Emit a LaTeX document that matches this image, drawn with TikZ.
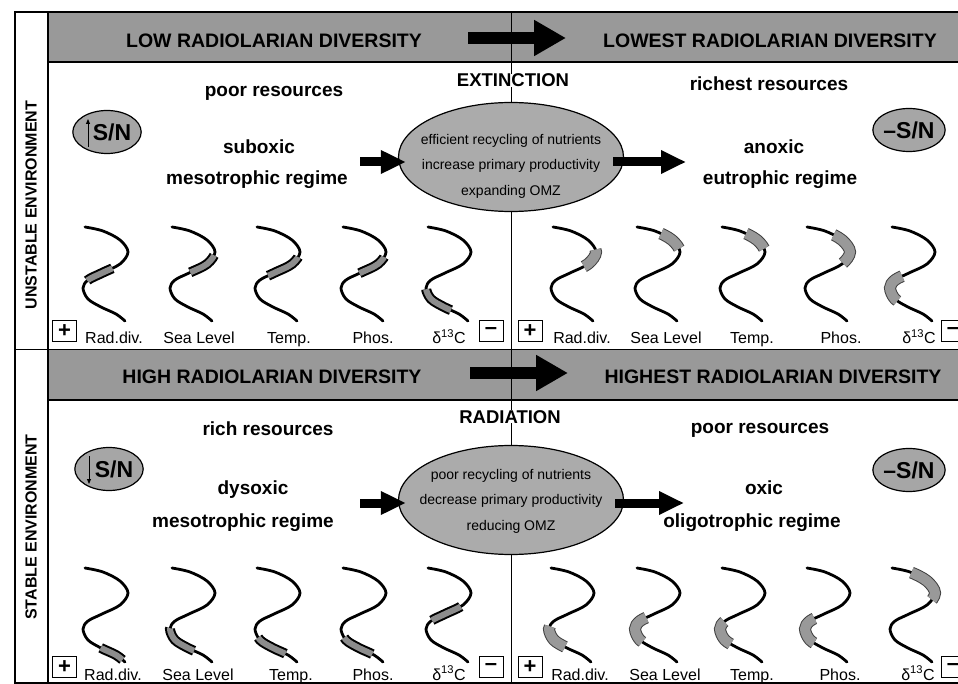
\documentclass[tikz,border=0pt]{standalone}
\usepackage{fontspec}
\setmainfont{Liberation Sans}
\usetikzlibrary{arrows.meta,shapes.geometric}
\newcommand{\radwave}[5]{%
 \begin{scope}[shift={(#1,#2)}]
  \draw[wave] plot[smooth,tension=0.55] coordinates {(-20,-46) (-2,-42) (15,-33) (23,-21) (15,-9) (-3,0) (-17,7) (-22,15) (-17,26) (-4,34) (11,41) (20,48)};
  \draw[#5, dash pattern=on 0pt off #3pt on #4pt off 2000pt] plot[smooth,tension=0.55] coordinates {(-20,-46) (-2,-42) (15,-33) (23,-21) (15,-9) (-3,0) (-17,7) (-22,15) (-17,26) (-4,34) (11,41) (20,48)};
 \end{scope}}
\begin{document}
\begin{tikzpicture}[x=1pt,y=-1pt,
  every node/.style={inner sep=0pt},
  banfill/.style={fill=black!40},
  frame/.style={draw=black,line width=1.4pt},
  thinline/.style={draw=black,line width=0.9pt},
  bantext/.style={font=\fontsize{19.5}{20}\selectfont\bfseries,anchor=base},
  head/.style={font=\fontsize{19}{20}\selectfont\bfseries,anchor=base},
  bighead/.style={font=\fontsize{18.5}{20}\selectfont\bfseries,anchor=base,fill=white,inner xsep=1pt},
  oval/.style={ellipse,draw=black,line width=1.2pt,fill=black!33,minimum width=225pt,minimum height=109pt},
  ovaltext/.style={align=center,font=\fontsize{14}{25.5}\selectfont},
  sn/.style={ellipse,draw=black,line width=1.2pt,fill=black!35,minimum width=64pt,minimum height=43pt,font=\fontsize{23}{23}\selectfont\bfseries},
  lab/.style={font=\fontsize{16}{16}\selectfont,anchor=base},
  pmbox/.style={draw=black,line width=0.9pt,minimum width=24pt,minimum height=21pt,font=\fontsize{22}{22}\selectfont\bfseries},
  bigarrow/.style={line width=12pt,-{Triangle[length=32pt,width=34pt]}},
  midarrow/.style={line width=9pt,-{Triangle[length=25pt,width=22pt]}},
  snarrow/.style={line width=1pt,-{Triangle[length=5pt,width=4pt]}},
  wave/.style={line width=2.8pt,line cap=round,line join=round},
  hatch/.style={line width=2pt,draw=black,double=black!45,double distance=6pt,line cap=butt},
  blob/.style={line width=1pt,draw=black!75,double=black!40,double distance=10pt,line cap=butt}
]
\useasboundingbox (0,0) rectangle (958,684);
% banners
\fill[banfill] (48,12) rectangle (958,62);
\fill[banfill] (48,349.5) rectangle (958,400);
% frame
\draw[frame] (958,12) -- (15,12) -- (15,683) -- (958,683);
\draw[frame] (48,12) -- (48,683);
\draw[frame] (48,62) -- (958,62);
\draw[frame] (15,349.5) -- (958,349.5);
\draw[frame] (48,400) -- (958,400);
\draw[thinline] (511,12) -- (511,683);
% side labels
\node[rotate=90,font=\fontsize{16}{16}\selectfont\bfseries] (unst) at (31,205) {UNSTABLE ENVIRONMENT};
\node[rotate=90,font=\fontsize{16}{16}\selectfont\bfseries] (stab) at (31,527) {STABLE ENVIRONMENT};
% ===== top section =====
\node[bantext] (low) at (274,48) {LOW RADIOLARIAN DIVERSITY};
\node[bantext] (lowest) at (770,48) {LOWEST RADIOLARIAN DIVERSITY};
\coordinate (b1s) at (468,38);
\coordinate (b1e) at (566,38);
\draw[bigarrow] (b1s) -- (b1e);
\node[bighead] (ext) at (513,87) {EXTINCTION};
\node[head] (res1l) at (274,97) {poor resources};
\node[head] (res1r) at (769,91) {richest resources};
\node[head] (reg1la) at (259,154) {suboxic};
\node[head] (reg1lb) at (257,185) {mesotrophic regime};
\node[head] (reg1ra) at (774,154) {anoxic};
\node[head] (reg1rb) at (780,185) {eutrophic regime};
\node[sn] (sn1l) at (107,132) {\kern10pt S/N};
\draw[snarrow] ([xshift=-19pt,yshift=-15pt]sn1l.center) -- ([xshift=-19pt,yshift=13pt]sn1l.center);
\node[sn] (sn1r) at (909,130) {–S/N};
\node[oval] (ov1) at (511,157) {};
\node[ovaltext] (ov1t) at (511,166) {efficient recycling of nutrients\\increase primary productivity\\expanding OMZ};
\coordinate (a1s) at (360,162);
\coordinate (a1e) at (686,162);
\draw[midarrow,shorten >=-8pt] (a1s) -- (a1s -| ov1.west);
\draw[midarrow,shorten <=-11pt] (a1e -| ov1.east) -- (a1e);
% waves top
\radwave{105}{273}{76}{28}{hatch}
\radwave{192}{273}{56}{30}{hatch}
\radwave{277}{273}{58}{36}{hatch}
\radwave{363}{273}{58}{30}{hatch}
\radwave{448}{273}{114}{34}{hatch}
\radwave{573}{273}{50}{22}{blob}
\radwave{657}{273}{25}{24}{blob}
\radwave{742}{273}{25}{24}{blob}
\radwave{827}{273}{28}{38}{blob}
\radwave{912}{273}{95}{33}{blob}
% labels top
\node[pmbox] (p1l) at (64.5,331) {+};
\node[lab] (l1a) at (114,344) {Rad.div.};
\node[lab] (l1b) at (199,344) {Sea Level};
\node[lab] (l1c) at (289,344) {Temp.};
\node[lab] (l1d) at (373,344) {Phos.};
\node[lab] (l1e) at (449,344) {δ\textsuperscript{13}C};
\node[pmbox] (m1l) at (491,331) {–};
\node[pmbox] (p1r) at (530,331) {+};
\node[lab] (r1a) at (582,344) {Rad.div.};
\node[lab] (r1b) at (666,344) {Sea Level};
\node[lab] (r1c) at (752,344) {Temp.};
\node[lab] (r1d) at (841,344) {Phos.};
\node[lab] (r1e) at (919,344) {δ\textsuperscript{13}C};
\node[pmbox] (m1r) at (953,331) {–};
% ===== bottom section =====
\node[bantext] (high) at (272,383) {HIGH RADIOLARIAN DIVERSITY};
\node[bantext] (highest) at (773,383) {HIGHEST RADIOLARIAN DIVERSITY};
\coordinate (b2s) at (470,373);
\coordinate (b2e) at (568,373);
\draw[bigarrow] (b2s) -- (b2e);
\node[bighead] (rad) at (510,423) {RADIATION};
\node[head] (res2l) at (268,435) {rich resources};
\node[head] (res2r) at (760,433) {poor resources};
\node[head] (reg2la) at (253,494) {dysoxic};
\node[head] (reg2lb) at (243,527) {mesotrophic regime};
\node[head] (reg2ra) at (764,494) {oxic};
\node[head] (reg2rb) at (752,527) {oligotrophic regime};
\node[sn] (sn2l) at (109,469) {\kern10pt S/N};
\draw[snarrow] ([xshift=-20pt,yshift=13pt]sn2l.center) -- ([xshift=-20pt,yshift=-15pt]sn2l.center);
\node[sn] (sn2r) at (909,470) {–S/N};
\node[oval] (ov2) at (511,500) {};
\node[ovaltext] (ov2t) at (511,501) {poor recycling of nutrients\\decrease primary productivity\\reducing OMZ};
\coordinate (a2s) at (360,503);
\coordinate (a2e) at (684,503);
\draw[midarrow,shorten >=-8pt] (a2s) -- (a2s -| ov2.west);
\draw[midarrow,shorten <=-9pt] (a2e -| ov2.east) -- (a2e);
% waves bottom
\radwave{105}{614}{140}{25}{hatch}
\radwave{192}{614}{112}{35}{hatch}
\radwave{277}{614}{122}{32}{hatch}
\radwave{363}{614}{122}{33}{hatch}
\radwave{448}{614}{70}{32}{hatch}
\radwave{571}{614}{110}{28}{blob}
\radwave{657}{614}{96}{32}{blob}
\radwave{742}{614}{104}{28}{blob}
\radwave{827}{614}{98}{32}{blob}
\radwave{912}{614}{20}{40}{blob}
% labels bottom
\node[pmbox] (p2l) at (64.5,667) {+};
\node[lab] (l2a) at (113,680) {Rad.div.};
\node[lab] (l2b) at (198,680) {Sea Level};
\node[lab] (l2c) at (291,680) {Temp.};
\node[lab] (l2d) at (373,680) {Phos.};
\node[lab] (l2e) at (449,680) {δ\textsuperscript{13}C};
\node[pmbox] (m2l) at (491,667) {–};
\node[pmbox] (p2r) at (530,667) {+};
\node[lab] (r2a) at (580,680) {Rad.div.};
\node[lab] (r2b) at (665,680) {Sea Level};
\node[lab] (r2c) at (752,680) {Temp.};
\node[lab] (r2d) at (840,680) {Phos.};
\node[lab] (r2e) at (918,680) {δ\textsuperscript{13}C};
\node[pmbox] (m2r) at (953,667) {–};
\end{tikzpicture}
\end{document}
